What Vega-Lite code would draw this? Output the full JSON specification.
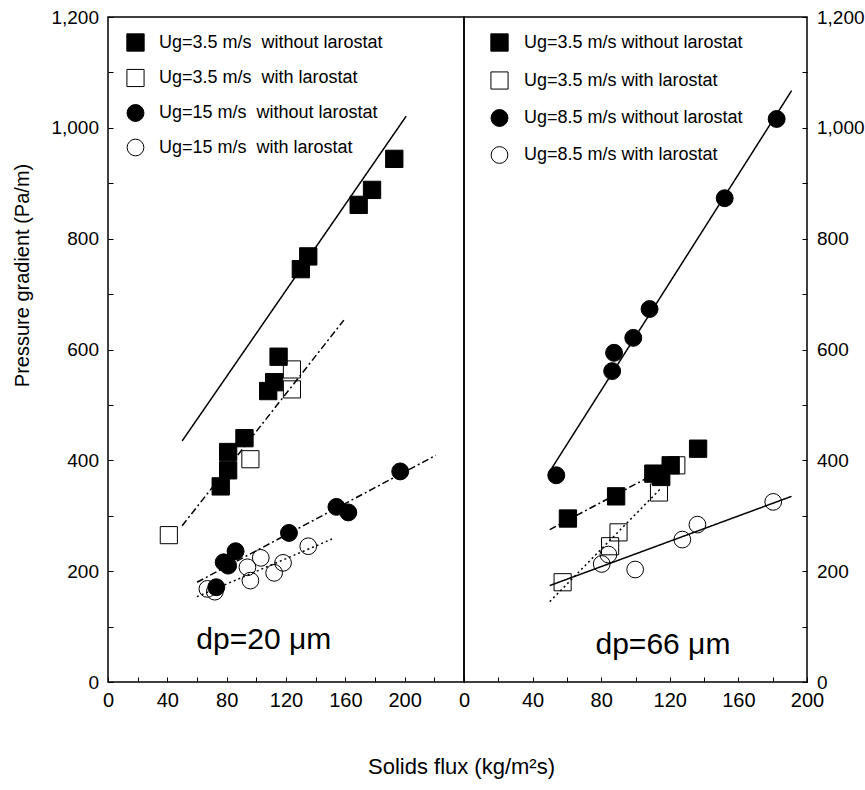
{
  "$schema": "https://vega.github.io/schema/vega-lite/v6.json",
  "background": "white",
  "padding": {"left": 12, "top": 7, "right": 0, "bottom": 5},
  "spacing": 0,
  "bounds": "flush",
  "config": {
    "font": "Liberation Sans",
    "view": {"stroke": "black", "strokeWidth": 1.5},
    "axis": {
      "grid": false, "domain": false, "tickColor": "black", "tickSize": -5, "tickWidth": 1,
      "labelColor": "black", "labelFont": "Liberation Sans", "labelFontSize": 19,
      "titleColor": "black", "titleFont": "Liberation Sans", "titleFontWeight": "normal", "labelFlush": false
    },
    "axisX": {"labelPadding": 13, "labelFontSize": 20},
    "axisY": {"labelPadding": 14.5},
    "legend": {
      "labelFont": "Liberation Sans", "labelFontSize": 18, "labelColor": "black", "labelLimit": 400,
      "symbolStrokeColor": "black", "symbolStrokeWidth": 1, "padding": 0
    }
  },
  "datasets": {
    "pointsL": [
      {"x": 193, "y": 944, "s": "Ug=3.5 m/s \u00a0without larostat"},
      {"x": 178, "y": 888, "s": "Ug=3.5 m/s \u00a0without larostat"},
      {"x": 169, "y": 861, "s": "Ug=3.5 m/s \u00a0without larostat"},
      {"x": 135, "y": 768, "s": "Ug=3.5 m/s \u00a0without larostat"},
      {"x": 130, "y": 745, "s": "Ug=3.5 m/s \u00a0without larostat"},
      {"x": 115, "y": 587, "s": "Ug=3.5 m/s \u00a0without larostat"},
      {"x": 112, "y": 541, "s": "Ug=3.5 m/s \u00a0without larostat"},
      {"x": 108, "y": 525, "s": "Ug=3.5 m/s \u00a0without larostat"},
      {"x": 92, "y": 440, "s": "Ug=3.5 m/s \u00a0without larostat"},
      {"x": 81, "y": 415, "s": "Ug=3.5 m/s \u00a0without larostat"},
      {"x": 81, "y": 382, "s": "Ug=3.5 m/s \u00a0without larostat"},
      {"x": 76, "y": 353, "s": "Ug=3.5 m/s \u00a0without larostat"},
      {"x": 124, "y": 564, "s": "Ug=3.5 m/s \u00a0with larostat"},
      {"x": 124, "y": 528, "s": "Ug=3.5 m/s \u00a0with larostat"},
      {"x": 96, "y": 402, "s": "Ug=3.5 m/s \u00a0with larostat"},
      {"x": 41, "y": 265, "s": "Ug=3.5 m/s \u00a0with larostat"},
      {"x": 197, "y": 380, "s": "Ug=15 m/s \u00a0without larostat"},
      {"x": 154, "y": 316, "s": "Ug=15 m/s \u00a0without larostat"},
      {"x": 162, "y": 306, "s": "Ug=15 m/s \u00a0without larostat"},
      {"x": 122, "y": 269, "s": "Ug=15 m/s \u00a0without larostat"},
      {"x": 86, "y": 236, "s": "Ug=15 m/s \u00a0without larostat"},
      {"x": 78, "y": 216, "s": "Ug=15 m/s \u00a0without larostat"},
      {"x": 81, "y": 210, "s": "Ug=15 m/s \u00a0without larostat"},
      {"x": 73, "y": 171, "s": "Ug=15 m/s \u00a0without larostat"},
      {"x": 135, "y": 245, "s": "Ug=15 m/s \u00a0with larostat"},
      {"x": 103, "y": 224, "s": "Ug=15 m/s \u00a0with larostat"},
      {"x": 118, "y": 215, "s": "Ug=15 m/s \u00a0with larostat"},
      {"x": 94, "y": 207, "s": "Ug=15 m/s \u00a0with larostat"},
      {"x": 112, "y": 197, "s": "Ug=15 m/s \u00a0with larostat"},
      {"x": 96, "y": 183, "s": "Ug=15 m/s \u00a0with larostat"},
      {"x": 67, "y": 168, "s": "Ug=15 m/s \u00a0with larostat"},
      {"x": 72, "y": 163, "s": "Ug=15 m/s \u00a0with larostat"}
    ],
    "linesL": [
      {"fit": "a", "style": "solid", "x": 50, "y": 435},
      {"fit": "a", "style": "solid", "x": 201, "y": 1021},
      {"fit": "b", "style": "dashdot", "x": 50, "y": 282},
      {"fit": "b", "style": "dashdot", "x": 159, "y": 653},
      {"fit": "c", "style": "dashdot", "x": 60, "y": 180},
      {"fit": "c", "style": "dashdot", "x": 221, "y": 409},
      {"fit": "d", "style": "dotted", "x": 60, "y": 154},
      {"fit": "d", "style": "dotted", "x": 151, "y": 258}
    ],
    "pointsR": [
      {"x": 136.5, "y": 421, "s": "Ug=3.5 m/s without larostat"},
      {"x": 120.5, "y": 391, "s": "Ug=3.5 m/s without larostat"},
      {"x": 110.4, "y": 376, "s": "Ug=3.5 m/s without larostat"},
      {"x": 115, "y": 370, "s": "Ug=3.5 m/s without larostat"},
      {"x": 88.7, "y": 335, "s": "Ug=3.5 m/s without larostat"},
      {"x": 60.6, "y": 295, "s": "Ug=3.5 m/s without larostat"},
      {"x": 123.8, "y": 391, "s": "Ug=3.5 m/s with larostat"},
      {"x": 113.7, "y": 342, "s": "Ug=3.5 m/s with larostat"},
      {"x": 90.1, "y": 270, "s": "Ug=3.5 m/s with larostat"},
      {"x": 85.2, "y": 245, "s": "Ug=3.5 m/s with larostat"},
      {"x": 57.5, "y": 180, "s": "Ug=3.5 m/s with larostat"},
      {"x": 182.3, "y": 1016, "s": "Ug=8.5 m/s without larostat"},
      {"x": 152, "y": 873, "s": "Ug=8.5 m/s without larostat"},
      {"x": 108.2, "y": 673, "s": "Ug=8.5 m/s without larostat"},
      {"x": 98.7, "y": 621, "s": "Ug=8.5 m/s without larostat"},
      {"x": 87.5, "y": 594, "s": "Ug=8.5 m/s without larostat"},
      {"x": 86.4, "y": 561, "s": "Ug=8.5 m/s without larostat"},
      {"x": 53.8, "y": 373, "s": "Ug=8.5 m/s without larostat"},
      {"x": 180.3, "y": 325, "s": "Ug=8.5 m/s with larostat"},
      {"x": 136.1, "y": 284, "s": "Ug=8.5 m/s with larostat"},
      {"x": 127.3, "y": 257, "s": "Ug=8.5 m/s with larostat"},
      {"x": 99.8, "y": 203, "s": "Ug=8.5 m/s with larostat"},
      {"x": 84.2, "y": 230, "s": "Ug=8.5 m/s with larostat"},
      {"x": 80.3, "y": 213, "s": "Ug=8.5 m/s with larostat"}
    ],
    "linesR": [
      {"fit": "a", "style": "dashdot", "x": 50, "y": 275},
      {"fit": "a", "style": "dashdot", "x": 125, "y": 398},
      {"fit": "b", "style": "dotted", "x": 50, "y": 145},
      {"fit": "b", "style": "dotted", "x": 115, "y": 350},
      {"fit": "c", "style": "solid", "x": 50, "y": 380},
      {"fit": "c", "style": "solid", "x": 191, "y": 1067},
      {"fit": "d", "style": "solid", "x": 50, "y": 174},
      {"fit": "d", "style": "solid", "x": 191, "y": 335}
    ]
  },
  "hconcat": [
    {
      "width": 356,
      "height": 665,
      "encoding": {
        "x": {
          "field": "x", "type": "quantitative",
          "scale": {"domain": [0, 240], "nice": false, "zero": false},
          "axis": {
            "values": [0, 20, 40, 60, 80, 100, 120, 140, 160, 180, 200, 220, 240],
            "labelExpr": "datum.value % 40 === 0 && datum.value < 240 ? datum.label : ''",
            "title": "Solids flux (kg/m²s)", "titleFontSize": 22,
            "titleX": 353, "titleY": 74, "titleAlign": "center", "titleBaseline": "top", "titleAngle": 0
          }
        },
        "y": {
          "field": "y", "type": "quantitative",
          "scale": {"domain": [0, 1200], "nice": false},
          "axis": {
            "values": [0, 100, 200, 300, 400, 500, 600, 700, 800, 900, 1000, 1100, 1200],
            "format": ",.0f",
            "labelExpr": "datum.value % 200 === 0 ? datum.label : ''",
            "title": "Pressure gradient (Pa/m)", "titleFontSize": 20, "titleY": 258, "titlePadding": 18
          }
        }
      },
      "layer": [
        {
          "data": {"name": "linesL"},
          "mark": {"type": "line", "color": "black", "strokeWidth": 1.5},
          "encoding": {
            "detail": {"field": "fit", "type": "nominal"},
            "strokeDash": {
              "field": "style", "type": "nominal",
              "scale": {"domain": ["solid", "dashdot", "dotted"], "range": [[1, 0], [7, 3, 2, 3], [2, 3]]},
              "legend": null
            }
          }
        },
        {
          "data": {"name": "pointsL"},
          "mark": {"type": "point", "filled": true, "strokeWidth": 1, "opacity": 1},
          "encoding": {
            "shape": {
              "field": "s", "type": "nominal",
              "scale": {"domain": ["Ug=3.5 m/s \u00a0without larostat", "Ug=3.5 m/s \u00a0with larostat", "Ug=15 m/s \u00a0without larostat", "Ug=15 m/s \u00a0with larostat"], "range": ["square", "square", "circle", "circle"]},
              "legend": {"title": null, "orient": "none", "legendX": 18, "legendY": 16, "rowPadding": 12.5, "labelOffset": 14}
            },
            "fill": {
              "field": "s", "type": "nominal",
              "scale": {"domain": ["Ug=3.5 m/s \u00a0without larostat", "Ug=3.5 m/s \u00a0with larostat", "Ug=15 m/s \u00a0without larostat", "Ug=15 m/s \u00a0with larostat"], "range": ["black", "transparent", "black", "transparent"]},
              "legend": {"title": null, "orient": "none", "legendX": 18, "legendY": 16, "rowPadding": 12.5, "labelOffset": 14}
            },
            "stroke": {
              "field": "s", "type": "nominal",
              "scale": {"domain": ["Ug=3.5 m/s \u00a0without larostat", "Ug=3.5 m/s \u00a0with larostat", "Ug=15 m/s \u00a0without larostat", "Ug=15 m/s \u00a0with larostat"], "range": ["black", "black", "black", "black"]},
              "legend": {"title": null, "orient": "none", "legendX": 18, "legendY": 16, "rowPadding": 12.5, "labelOffset": 14}
            },
            "size": {
              "field": "s", "type": "nominal",
              "scale": {"domain": ["Ug=3.5 m/s \u00a0without larostat", "Ug=3.5 m/s \u00a0with larostat", "Ug=15 m/s \u00a0without larostat", "Ug=15 m/s \u00a0with larostat"], "range": [300, 280, 115, 150]},
              "legend": {"title": null, "orient": "none", "legendX": 18, "legendY": 16, "rowPadding": 12.5, "labelOffset": 14}
            }
          }
        },
        {
          "data": {"values": [{"x": 105, "y": 76, "label": "dp=20 μm"}]},
          "mark": {"type": "text", "fontSize": 30, "font": "Liberation Sans", "color": "black", "align": "center", "baseline": "middle"},
          "encoding": {"text": {"field": "label", "type": "nominal"}}
        }
      ]
    },
    {
      "width": 343,
      "height": 665,
      "encoding": {
        "x": {
          "field": "x", "type": "quantitative",
          "scale": {"domain": [0, 200], "nice": false, "zero": false},
          "axis": {
            "values": [0, 20, 40, 60, 80, 100, 120, 140, 160, 180, 200],
            "labelExpr": "datum.value % 40 === 0 ? datum.label : ''",
            "title": null
          }
        },
        "y": {
          "field": "y", "type": "quantitative",
          "scale": {"domain": [0, 1200], "nice": false},
          "axis": {
            "orient": "right",
            "values": [0, 100, 200, 300, 400, 500, 600, 700, 800, 900, 1000, 1100, 1200],
            "format": ",.0f",
            "labelExpr": "datum.value % 200 === 0 ? datum.label : ''",
            "title": null
          }
        }
      },
      "layer": [
        {
          "data": {"name": "linesR"},
          "mark": {"type": "line", "color": "black", "strokeWidth": 1.5},
          "encoding": {
            "detail": {"field": "fit", "type": "nominal"},
            "strokeDash": {
              "field": "style", "type": "nominal",
              "scale": {"domain": ["solid", "dashdot", "dotted"], "range": [[1, 0], [7, 3, 2, 3], [2, 3]]},
              "legend": null
            }
          }
        },
        {
          "data": {"name": "pointsR"},
          "mark": {"type": "point", "filled": true, "strokeWidth": 1, "opacity": 1},
          "encoding": {
            "shape": {
              "field": "s", "type": "nominal",
              "scale": {"domain": ["Ug=3.5 m/s without larostat", "Ug=3.5 m/s with larostat", "Ug=8.5 m/s without larostat", "Ug=8.5 m/s with larostat"], "range": ["square", "square", "circle", "circle"]},
              "legend": {"title": null, "orient": "none", "legendX": 26, "legendY": 16, "rowPadding": 15, "labelOffset": 15}
            },
            "fill": {
              "field": "s", "type": "nominal",
              "scale": {"domain": ["Ug=3.5 m/s without larostat", "Ug=3.5 m/s with larostat", "Ug=8.5 m/s without larostat", "Ug=8.5 m/s with larostat"], "range": ["black", "transparent", "black", "transparent"]},
              "legend": {"title": null, "orient": "none", "legendX": 26, "legendY": 16, "rowPadding": 15, "labelOffset": 15}
            },
            "stroke": {
              "field": "s", "type": "nominal",
              "scale": {"domain": ["Ug=3.5 m/s without larostat", "Ug=3.5 m/s with larostat", "Ug=8.5 m/s without larostat", "Ug=8.5 m/s with larostat"], "range": ["black", "black", "black", "black"]},
              "legend": {"title": null, "orient": "none", "legendX": 26, "legendY": 16, "rowPadding": 15, "labelOffset": 15}
            },
            "size": {
              "field": "s", "type": "nominal",
              "scale": {"domain": ["Ug=3.5 m/s without larostat", "Ug=3.5 m/s with larostat", "Ug=8.5 m/s without larostat", "Ug=8.5 m/s with larostat"], "range": [300, 280, 110, 130]},
              "legend": {"title": null, "orient": "none", "legendX": 26, "legendY": 16, "rowPadding": 15, "labelOffset": 15}
            }
          }
        },
        {
          "data": {"values": [{"x": 116, "y": 67, "label": "dp=66 μm"}]},
          "mark": {"type": "text", "fontSize": 30, "font": "Liberation Sans", "color": "black", "align": "center", "baseline": "middle"},
          "encoding": {"text": {"field": "label", "type": "nominal"}}
        }
      ]
    }
  ],
  "resolve": {
    "scale": {"x": "independent", "y": "independent", "shape": "independent", "fill": "independent", "stroke": "independent", "size": "independent", "strokeDash": "independent"},
    "axis": {"x": "independent", "y": "independent"},
    "legend": {"shape": "independent", "fill": "independent", "stroke": "independent", "size": "independent"}
  }
}
